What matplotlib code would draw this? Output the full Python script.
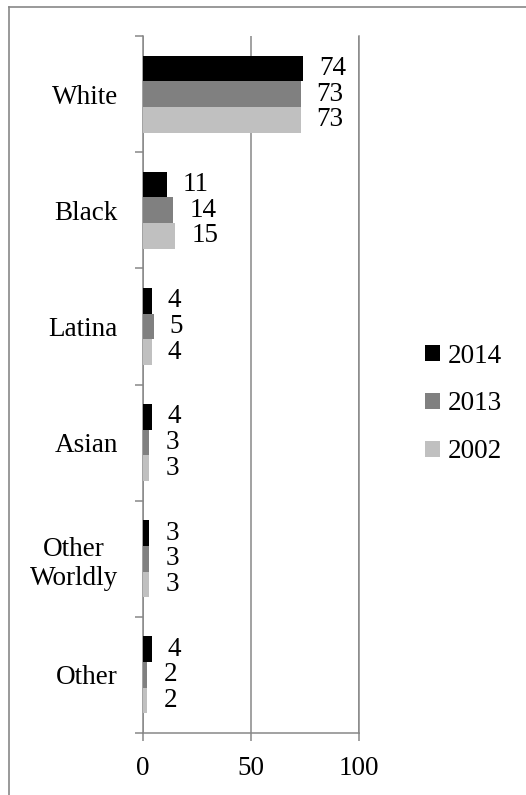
import matplotlib
matplotlib.use("Agg")
import matplotlib.pyplot as plt
from matplotlib.lines import Line2D
from matplotlib.ticker import FixedLocator
import numpy as np

categories = ["White", "Black", "Latina", "Asian", "Other\nWorldly", "Other"]
series_names = ["2014", "2013", "2002"]
values_2014 = [74, 11, 4, 4, 3, 4]
values_2013 = [73, 14, 5, 3, 3, 2]
values_2002 = [73, 15, 4, 3, 3, 2]
x_ticks = [0, 50, 100]
colors = ["#000000", "#808080", "#c0c0c0"]

plt.rcParams["font.family"] = ["Liberation Serif", "DejaVu Serif"]
FS = 19.5
GRAY = "#878787"

W, H = 526, 795
fig = plt.figure(figsize=(W / 100, H / 100), dpi=100)
ax = fig.add_axes([143 / W, 62 / H, 216 / W, 697 / H])

series = [values_2014, values_2013, values_2002]
bar_h = 0.221
y = np.arange(len(categories))
containers = []
for j, (name, vals, col) in enumerate(zip(series_names, series, colors)):
    pos = y + (j - 1) * bar_h
    c = ax.barh(pos, vals, height=bar_h, color=col, label=name, zorder=3, linewidth=0)
    containers.append(c)
    for p, v in zip(pos, vals):
        ax.annotate(str(v), xy=(v, p), xytext=(11.5, 0), textcoords="offset points",
                    va="center", ha="left", fontsize=FS, color="black")

ax.set_xlim(0, 100)
ax.set_ylim(len(categories) - 0.5, -0.5)

ax.set_xticks(x_ticks)
ax.set_xticklabels([str(t) for t in x_ticks], fontsize=FS)
ax.tick_params(axis="x", direction="out", length=5.8, width=1.1, color=GRAY, pad=11)

ax.set_yticks(y)
ax.set_yticklabels(categories, fontsize=FS, multialignment="center")
ax.yaxis.set_minor_locator(FixedLocator(np.arange(-0.5, len(categories), 1.0)))
ax.tick_params(axis="y", which="major", length=0, pad=18)
ax.tick_params(axis="y", which="minor", direction="out", length=5.8, width=1.1, color=GRAY)

ax.spines["top"].set_visible(False)
for s in ["left", "bottom", "right"]:
    ax.spines[s].set_color(GRAY)
    ax.spines[s].set_linewidth(1.1)

ax.xaxis.grid(True, color=GRAY, linewidth=1.1, zorder=0)
ax.set_axisbelow(True)

leg = fig.legend(handles=containers, labels=series_names, loc="center left",
                 bbox_to_anchor=(425 / W, 1 - 404 / H), frameon=False, fontsize=FS,
                 handlelength=0.55, handleheight=0.55, handletextpad=0.3,
                 labelspacing=0.84, borderpad=0, borderaxespad=0)

# figure border (left and top visible)
fig.add_artist(Line2D([9.3 / W, 9.3 / W], [0, 1 - 6.7 / H], color="#888888", linewidth=1.2,
                      transform=fig.transFigure))
fig.add_artist(Line2D([9.3 / W, 1], [1 - 6.7 / H, 1 - 6.7 / H], color="#888888", linewidth=1.2,
                      transform=fig.transFigure))

fig.savefig("out.png", dpi=100)
